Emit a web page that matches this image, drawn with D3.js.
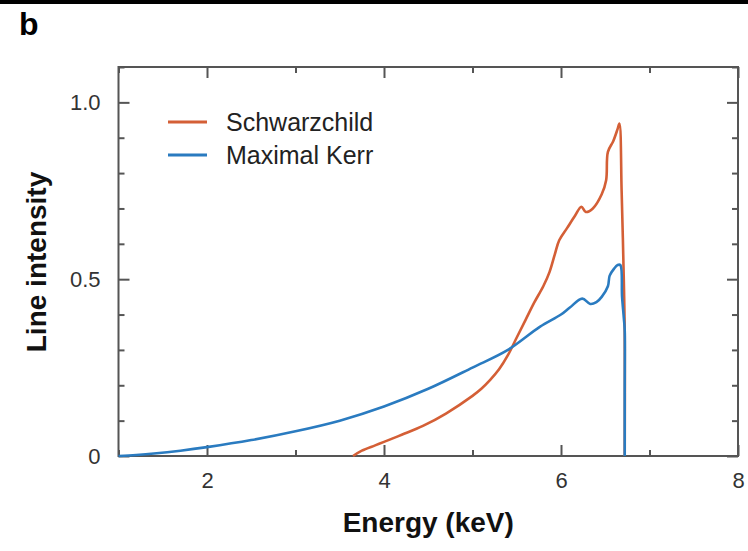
<!DOCTYPE html>
<html>
<head>
<meta charset="utf-8">
<script src="https://cdn.jsdelivr.net/npm/d3@7"></script>
<style>
  body { margin: 0; background: #fff; }
  svg { display: block; font-family: "Liberation Sans", Arial, sans-serif; }
</style>
</head>
<body>
<div id="chart"></div>
<script>
// energy (keV) / line intensity
var schwarzchildEnergy = [3.65, 3.75, 3.9, 4.0, 4.2, 4.44, 4.7, 5.0, 5.1, 5.2, 5.3, 5.4, 5.5, 5.6, 5.7, 5.8, 5.87, 5.93, 5.98, 6.07, 6.16, 6.23, 6.28, 6.36, 6.46, 6.51, 6.53, 6.59, 6.64, 6.66, 6.685, 6.705, 6.72, 6.72];
var schwarzchildValue = [0, 0.015, 0.03, 0.04, 0.06, 0.085, 0.12, 0.17, 0.19, 0.215, 0.245, 0.285, 0.335, 0.385, 0.435, 0.48, 0.52, 0.57, 0.61, 0.645, 0.68, 0.705, 0.69, 0.7, 0.74, 0.78, 0.86, 0.89, 0.925, 0.94, 0.75, 0.55, 0.35, 0];

var kerrEnergy = [1.0, 1.2, 1.4, 1.7, 2.0, 2.5, 3.0, 3.5, 4.0, 4.5, 5.0, 5.4, 5.76, 6.0, 6.1, 6.24, 6.33, 6.4, 6.46, 6.53, 6.55, 6.6, 6.64, 6.67, 6.69, 6.71, 6.72, 6.72, 6.72];
var kerrValue = [0, 0.003, 0.007, 0.015, 0.025, 0.045, 0.07, 0.1, 0.14, 0.19, 0.25, 0.3, 0.365, 0.4, 0.42, 0.445, 0.43, 0.435, 0.45, 0.48, 0.51, 0.53, 0.54, 0.54, 0.45, 0.39, 0.356, 0.18, 0];

var seriesNames = ["Schwarzchild", "Maximal Kerr"];
var seriesColors = ["#d45f36", "#2a7bc0"];

var xMajorTicks = [2, 4, 6, 8];
var xMinorTicks = [1, 3, 5, 7];
var yMajorTicks = [0, 0.5, 1.0];
var yMinorTicks = [0.1, 0.2, 0.3, 0.4, 0.6, 0.7, 0.8, 0.9, 1.1];

var W = 748, H = 551;
var frame = { left: 118.5, right: 738, top: 67, bottom: 456 };

var x = d3.scaleLinear().domain([1, 8]).range([frame.left, frame.right]);
var y = d3.scaleLinear().domain([0, 1.1]).range([frame.bottom, frame.top]);

var svg = d3.select("#chart").append("svg")
  .attr("width", W)
  .attr("height", H);

// black rule across the top of the panel
svg.append("rect")
  .attr("x", 0).attr("y", 0)
  .attr("width", W).attr("height", 4)
  .attr("fill", "#000");

svg.append("text")
  .attr("x", 19).attr("y", 35)
  .style("font-size", "32px")
  .style("font-weight", "bold")
  .attr("fill", "#000")
  .text("b");

var axisColor = "#555";

function drawAxis(axisFn, scale, ticks, size, transform, labels) {
  var g = svg.append("g")
    .attr("transform", transform)
    .call(axisFn(scale).tickValues(ticks).tickSize(size).tickSizeOuter(0)
      .tickFormat(labels ? function (d) { return d === 0 ? "0" : d3.format(".1f")(d); } : ""));
  g.select(".domain").remove();
  g.selectAll(".tick line").attr("stroke", axisColor).attr("stroke-width", 2);
  return g;
}

// ticks point inward on all four sides
var xb = drawAxis(d3.axisBottom, x, xMajorTicks, -11, "translate(0," + frame.bottom + ")", true);
xb.selectAll(".tick text")
  .text(function (d) { return d; })
  .attr("y", 16)
  .attr("dy", "0.71em")
  .style("font-size", "22px")
  .attr("fill", "#333");
drawAxis(d3.axisBottom, x, xMinorTicks, -6, "translate(0," + frame.bottom + ")", false);
drawAxis(d3.axisTop, x, xMajorTicks, -11, "translate(0," + frame.top + ")", false);
drawAxis(d3.axisTop, x, xMinorTicks, -6, "translate(0," + frame.top + ")", false);

var yl = drawAxis(d3.axisLeft, y, yMajorTicks, -11, "translate(" + frame.left + ",0)", true);
yl.selectAll(".tick text")
  .attr("x", -18)
  .style("font-size", "22px")
  .attr("fill", "#333");
drawAxis(d3.axisLeft, y, yMinorTicks, -6, "translate(" + frame.left + ",0)", false);
drawAxis(d3.axisRight, y, yMajorTicks, -11, "translate(" + frame.right + ",0)", false);
drawAxis(d3.axisRight, y, yMinorTicks, -6, "translate(" + frame.right + ",0)", false);

svg.append("rect")
  .attr("x", frame.left).attr("y", frame.top)
  .attr("width", frame.right - frame.left)
  .attr("height", frame.bottom - frame.top)
  .attr("fill", "none")
  .attr("stroke", axisColor)
  .attr("stroke-width", 2);

// curves
var line = d3.line()
  .curve(d3.curveCatmullRom.alpha(0.5))
  .x(function (d) { return x(d[0]); })
  .y(function (d) { return y(d[1]); });

var series = [
  d3.zip(schwarzchildEnergy, schwarzchildValue),
  d3.zip(kerrEnergy, kerrValue)
];

svg.selectAll(".curve")
  .data(series)
  .enter()
  .append("path")
  .attr("class", "curve")
  .attr("d", line)
  .attr("fill", "none")
  .attr("stroke", function (d, i) { return seriesColors[i]; })
  .attr("stroke-width", 2.6)
  .attr("stroke-linejoin", "round");

// legend
var legend = svg.selectAll(".legend")
  .data(seriesNames)
  .enter()
  .append("g")
  .attr("class", "legend")
  .attr("transform", function (d, i) { return "translate(168," + (122 + i * 33) + ")"; });

legend.append("line")
  .attr("x1", 0).attr("x2", 39)
  .attr("stroke", function (d, i) { return seriesColors[i]; })
  .attr("stroke-width", 3);

legend.append("text")
  .attr("x", 58)
  .attr("dy", "0.35em")
  .style("font-size", "25px")
  .attr("fill", "#222")
  .text(function (d) { return d; });

// axis titles
svg.append("text")
  .attr("x", (frame.left + frame.right) / 2)
  .attr("y", 532)
  .attr("text-anchor", "middle")
  .style("font-size", "28px")
  .style("font-weight", "bold")
  .attr("fill", "#111")
  .text("Energy (keV)");

svg.append("text")
  .attr("transform", "translate(46,262) rotate(-90)")
  .attr("text-anchor", "middle")
  .style("font-size", "28px")
  .style("font-weight", "bold")
  .attr("fill", "#111")
  .text("Line intensity");
</script>
</body>
</html>
